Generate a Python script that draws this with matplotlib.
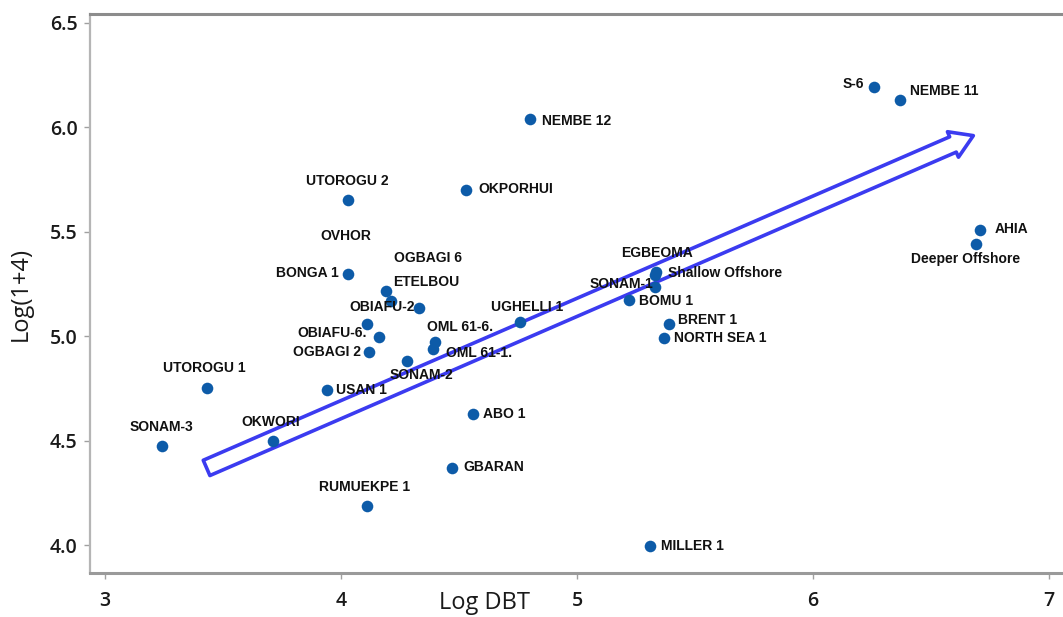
import matplotlib
matplotlib.use("Agg")
import matplotlib.pyplot as plt

names = ["SONAM-3", "UTOROGU 1", "OKWORI", "RUMUEKPE 1", "USAN 1", "UTOROGU 2", "BONGA 1",
         "ETELBOU", "OGBAGI 6", "OBIAFU-2", "OVHOR", "OBIAFU-6.", "OGBAGI 2", "SONAM-2",
         "OML 61-6.", "OML 61-1.", "UGHELLI 1", "ABO 1", "GBARAN", "NEMBE 12", "OKPORHUI",
         "EGBEOMA", "Shallow Offshore", "SONAM-1", "BOMU 1", "BRENT 1", "NORTH SEA 1",
         "MILLER 1", "S-6", "NEMBE 11", "AHIA", "Deeper Offshore"]
log_dbt = [3.24, 3.43, 3.71, 4.11, 3.94, 4.03, 4.03,
           4.19, 4.21, 4.33, 4.11, 4.16, 4.12, 4.28,
           4.40, 4.39, 4.76, 4.56, 4.47, 4.80, 4.53,
           5.335, 5.33, 5.33, 5.22, 5.39, 5.37,
           5.31, 6.26, 6.37, 6.71, 6.69]
log_14 = [4.475, 4.752, 4.498, 4.188, 4.743, 5.652, 5.298,
          5.217, 5.169, 5.135, 5.059, 4.996, 4.925, 4.882,
          4.972, 4.939, 5.068, 4.626, 4.368, 6.039, 5.699,
          5.306, 5.293, 5.235, 5.173, 5.058, 4.991,
          3.995, 6.192, 6.130, 5.508, 5.441]

# label placement (pixel offsets, alignment)
label_style = {
    "SONAM-3": (0, 19, "center"), "UTOROGU 1": (-2, 20, "center"), "OKWORI": (-2, 19, "center"),
    "RUMUEKPE 1": (-2, 19, "center"), "USAN 1": (9, 0, "left"), "UTOROGU 2": (-1, 19, "center"),
    "BONGA 1": (-9, 1, "right"), "ETELBOU": (7, 9, "left"), "OGBAGI 6": (3, 43, "left"),
    "OBIAFU-2": (-4, 1, "right"), "OVHOR": (-21, 88, "center"), "OBIAFU-6.": (-12, 4, "right"),
    "OGBAGI 2": (-8, 0, "right"), "SONAM-2": (14, -14, "center"), "OML 61-6.": (-8, 15, "left"),
    "OML 61-1.": (13, -4, "left"), "UGHELLI 1": (7, 15, "center"), "ABO 1": (10, 0, "left"),
    "GBARAN": (11, 1, "left"), "NEMBE 12": (12, -2, "left"), "OKPORHUI": (12, 1, "left"),
    "EGBEOMA": (1, 19, "center"), "Shallow Offshore": (13, 2, "left"), "SONAM-1": (-2, 3, "right"),
    "BOMU 1": (10, -1, "left"), "BRENT 1": (9, 4, "left"), "NORTH SEA 1": (10, 0, "left"),
    "MILLER 1": (11, 0, "left"), "S-6": (-10, 3, "right"), "NEMBE 11": (10, 9, "left"),
    "AHIA": (14, 1, "left"), "Deeper Offshore": (-10, -15, "center"),
}

arrow_start = (3.43, 4.37)
arrow_end = (6.68, 5.96)

x_ticks = [3, 4, 5, 6, 7]
y_ticks = [4.0, 4.5, 5.0, 5.5, 6.0, 6.5]

fig = plt.figure(figsize=(10.63, 6.17), dpi=100)
ax = fig.add_axes([0.0847, 0.0713, 0.9153, 0.9060])
ax.set_xlim(2.936, 7.06)
ax.set_ylim(3.867, 6.542)

ax.annotate("", xy=arrow_end, xytext=arrow_start,
            arrowprops=dict(arrowstyle="simple,head_length=0.8,head_width=1.0,tail_width=0.6",
                            fc="white", ec="#3b3bf0", lw=2.6, mutation_scale=20,
                            shrinkA=0, shrinkB=0),
            zorder=2)

ax.scatter(log_dbt, log_14, s=70, color="#0d5ba8", zorder=3, linewidths=0)

lab_font = ["Liberation Sans Narrow", "Liberation Sans", "DejaVu Sans"]
for n, x, y in zip(names, log_dbt, log_14):
    dx, dy, ha = label_style[n]
    ax.annotate(n, (x, y), xytext=(dx, dy), textcoords="offset pixels",
                ha=ha, va="center", fontsize=10, fontweight="bold",
                family=lab_font, color="#111111", zorder=4)

ax.set_xticks(x_ticks)
ax.set_yticks(y_ticks)
ax.set_xticklabels([str(t) for t in x_ticks])
ax.set_yticklabels([f"{t:.1f}" for t in y_ticks])
tick_font = ["Open Sans", "DejaVu Sans"]
for lab in ax.get_xticklabels() + ax.get_yticklabels():
    lab.set_family(tick_font)
    lab.set_fontsize(14)
    lab.set_fontweight("semibold")
    lab.set_color("#1a1a1a")
ax.tick_params(axis="both", length=4, width=1, color="#a0a0a0", pad=5)
ax.tick_params(axis="x", pad=9)

fig.text(0.456, 0.022, "Log DBT", fontsize=17, family=tick_font, color="#1a1a1a",
         ha="center", va="center")
ax.set_ylabel("Log(1+4)", fontsize=17, family=tick_font, color="#1a1a1a", labelpad=12)

ax.spines["right"].set_visible(False)
ax.spines["top"].set_color("#8c8c8c")
ax.spines["top"].set_linewidth(2.2)
ax.spines["left"].set_color("#b5b5b5")
ax.spines["left"].set_linewidth(1.6)
ax.spines["bottom"].set_color("#9a9a9a")
ax.spines["bottom"].set_linewidth(2.2)

fig.savefig("out.png", dpi=100)
